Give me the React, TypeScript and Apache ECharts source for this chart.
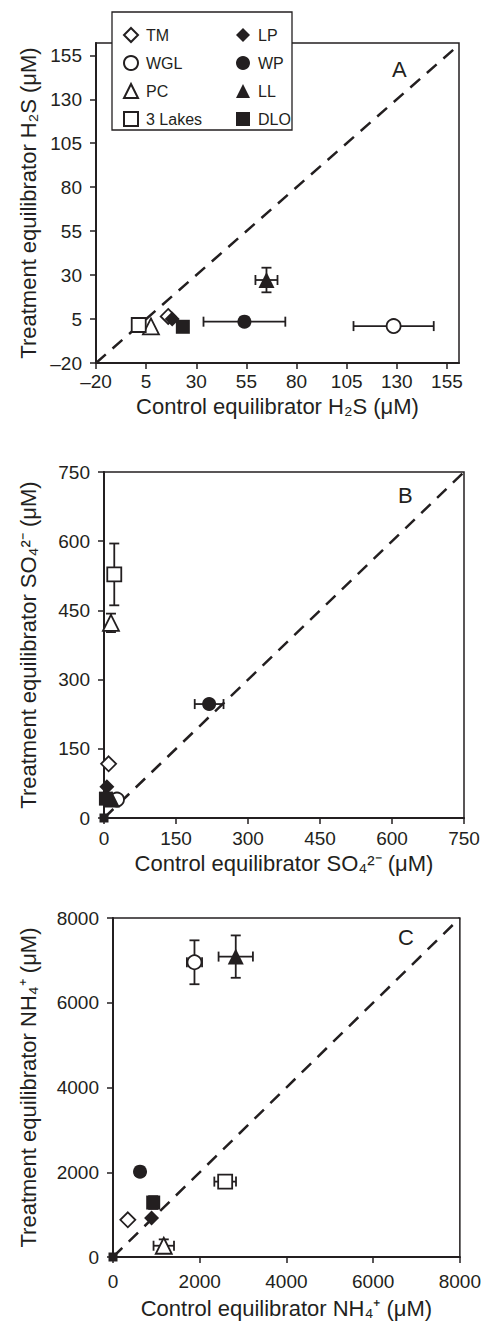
import React, { useEffect, useRef } from 'react';
import * as echarts from 'echarts';

const ink = '#231f20';
const font = '"Liberation Sans", Arial, Helvetica, sans-serif';

const sites = ['TM', 'WGL', 'PC', '3 Lakes', 'LP', 'WP', 'LL', 'DLO'];
const symbols = ['diamond', 'circle', 'triangle', 'rect', 'diamond', 'circle', 'triangle', 'rect'];
const filled = [false, false, false, false, true, true, true, true];
const symbolSizes = [15, 14, 16, 14, 15, 14, 16, 14];

// Panel A: H2S (µM)
const aControl = [16, 128.4, 7.4, 1.3, 18, 54, 65, 23.3];
const aTreatment = [6.5, 1, 0.8, 1.6, 5, 3.5, 27.2, 0.6];
const aControlErr = [0, 20, 0, 0, 0, 20.4, 5.5, 0];
const aTreatmentErr = [0, 0, 0, 0, 0, 0, 7, 0];

// Panel B: SO4 2- (µM)
const bControl = [9.6, 27, 14.5, 21.4, 6, 219, 16.6, 4];
const bTreatment = [117.5, 40, 423, 528, 68, 247, 40, 42];
const bControlErr = [0, 0, 0, 6, 0, 30, 0, 0];
const bTreatmentErr = [0, 0, 20, 67, 0, 0, 0, 0];

// Panel C: NH4+ (µM)
const cControl = [342, 1879, 1171, 2587, 890, 623, 2831, 927];
const cTreatment = [878, 6955, 266, 1779, 918, 2014, 7089, 1285];
const cControlErr = [0, 175, 236, 250, 0, 80, 396, 0];
const cTreatmentErr = [0, 518, 150, 120, 0, 60, 500, 150];

// extra small point at the origin in panels B and C
const originPoint = [0, 0];

// axis ranges
const aMin = -20, aMaxX = 161, aMaxY = 162, aStep = 25;
const bMin = 0, bMax = 750, bStep = 150;
const cMin = 0, cMax = 8000, cStep = 2000;

const panelLabels = ['A', 'B', 'C'];
const xTitles = ['Control equilibrator H₂S (μM)', 'Control equilibrator SO₄²⁻ (μM)', 'Control equilibrator NH₄⁺ (μM)'];
const yTitles = ['Treatment equilibrator H₂S (μM)', 'Treatment equilibrator SO₄²⁻ (μM)', 'Treatment equilibrator NH₄⁺ (μM)'];

const grids = [
  { left: 96, top: 43, width: 363, height: 320 },
  { left: 104, top: 472, width: 360, height: 346 },
  { left: 113, top: 918, width: 350, height: 339 },
];

const errRender = (params: any, api: any) => {
  const x = api.value(0), y = api.value(1), xe = api.value(2), ye = api.value(3);
  const cap = 5;
  const style = { stroke: ink, lineWidth: 1.8, fill: null };
  const children: any[] = [];
  const seg = (x1: number, y1: number, x2: number, y2: number) =>
    children.push({ type: 'line', shape: { x1, y1, x2, y2 }, style });
  if (xe > 0) {
    const p1 = api.coord([x - xe, y]);
    const p2 = api.coord([x + xe, y]);
    seg(p1[0], p1[1], p2[0], p2[1]);
    seg(p1[0], p1[1] - cap, p1[0], p1[1] + cap);
    seg(p2[0], p2[1] - cap, p2[0], p2[1] + cap);
  }
  if (ye > 0) {
    const p1 = api.coord([x, y - ye]);
    const p2 = api.coord([x, y + ye]);
    seg(p1[0], p1[1], p2[0], p2[1]);
    seg(p1[0] - cap, p1[1], p1[0] + cap, p1[1]);
    seg(p2[0] - cap, p2[1], p2[0] + cap, p2[1]);
  }
  return { type: 'group', children };
};

const fmt = (v: number) => String(v).replace('-', '–');

export default function App() {
  const ref = useRef<HTMLDivElement>(null);
  useEffect(() => {
    if (!ref.current) return;
    const chart = echarts.init(ref.current, null, { renderer: 'svg' });

    const panels = [
      { xs: aControl, ys: aTreatment, xe: aControlErr, ye: aTreatmentErr, min: aMin, maxX: aMaxX, maxY: aMaxY, step: aStep, origin: false },
      { xs: bControl, ys: bTreatment, xe: bControlErr, ye: bTreatmentErr, min: bMin, maxX: bMax, maxY: bMax, step: bStep, origin: true },
      { xs: cControl, ys: cTreatment, xe: cControlErr, ye: cTreatmentErr, min: cMin, maxX: cMax, maxY: cMax, step: cStep, origin: true },
    ];
    const xLabelMargin = [9, 11, 15];
    const xNameGap = [32, 34, 40];
    const yNameGap = [57, 65, 74];

    const xAxis: any[] = [];
    const yAxis: any[] = [];
    const series: any[] = [];

    panels.forEach((p, pi) => {
      const common = {
        gridIndex: pi,
        type: 'value',
        min: p.min,
        interval: p.step,
        nameLocation: 'middle',
        splitLine: { show: false },
        axisLine: { show: true, onZero: false, lineStyle: { color: ink, width: 2 } },
        axisTick: { show: true, inside: false, length: 6, lineStyle: { color: ink, width: 1.5 } },
        nameTextStyle: { fontSize: 22, color: ink, fontFamily: font },
      };
      xAxis.push({
        ...common,
        max: p.maxX,
        name: xTitles[pi],
        nameGap: xNameGap[pi],
        axisLabel: { fontSize: 19, color: ink, fontFamily: font, margin: xLabelMargin[pi], formatter: fmt, showMaxLabel: p.maxX % p.step === (p.min % p.step) },
      });
      yAxis.push({
        ...common,
        max: p.maxY,
        name: yTitles[pi],
        nameGap: yNameGap[pi],
        axisLabel: { fontSize: 19, color: ink, fontFamily: font, margin: 14, formatter: fmt },
      });

      // 1:1 dashed line
      series.push({
        type: 'line',
        xAxisIndex: pi,
        yAxisIndex: pi,
        data: [[p.min, p.min], [Math.min(p.maxX, p.maxY), Math.min(p.maxX, p.maxY)]],
        showSymbol: false,
        symbol: 'none',
        silent: true,
        lineStyle: { color: ink, width: 2.5, type: [13, 9] },
        z: 1,
      });

      // error bars
      series.push({
        type: 'custom',
        xAxisIndex: pi,
        yAxisIndex: pi,
        renderItem: errRender,
        encode: { x: 0, y: 1 },
        data: sites.map((_, i) => [p.xs[i], p.ys[i], p.xe[i], p.ye[i]]),
        silent: true,
        z: 2,
      });

      sites.forEach((s, i) => {
        const data: any[] = [[p.xs[i], p.ys[i]]];
        if (p.origin && s === 'DLO') data.push({ value: originPoint, symbolSize: 9 });
        series.push({
          type: 'scatter',
          name: s,
          xAxisIndex: pi,
          yAxisIndex: pi,
          symbol: symbols[i],
          symbolSize: symbolSizes[i],
          data,
          itemStyle: filled[i]
            ? { color: ink, borderColor: ink, borderWidth: 0, opacity: 1 }
            : { color: '#ffffff', borderColor: ink, borderWidth: 1.8, opacity: 1 },
          z: 3,
        });
      });
    });

    const legendCommon = {
      orient: 'vertical',
      top: 22,
      itemWidth: 14,
      itemHeight: 14,
      itemGap: 12,
      selectedMode: false,
      z: 20,
      textStyle: { fontSize: 16, lineHeight: 16, color: ink, fontFamily: font, padding: [0, 0, 0, 3] },
    };

    chart.setOption({
      animation: false,
      backgroundColor: '#ffffff',
      textStyle: { fontFamily: font },
      grid: grids.map((g) => ({ ...g, show: true, borderColor: ink, borderWidth: 1.5, backgroundColor: 'transparent' })),
      xAxis,
      yAxis,
      legend: [
        { ...legendCommon, left: 118, data: sites.slice(0, 4) },
        { ...legendCommon, left: 231, data: sites.slice(4) },
      ],
      graphic: [
        { type: 'rect', z: 10, shape: { x: 112, y: 12, width: 180, height: 118 }, style: { fill: '#ffffff', stroke: ink, lineWidth: 1.3 } },
        { type: 'text', z: 10, x: 392, y: 58, style: { text: panelLabels[0], fontSize: 22, fill: ink, fontFamily: font } },
        { type: 'text', z: 10, x: 398, y: 484, style: { text: panelLabels[1], fontSize: 22, fill: ink, fontFamily: font } },
        { type: 'text', z: 10, x: 398, y: 926, style: { text: panelLabels[2], fontSize: 22, fill: ink, fontFamily: font } },
      ],
      series,
    });
    return () => chart.dispose();
  }, []);

  return <div ref={ref} style={{ position: 'absolute', left: 0, top: 0, width: 484, height: 1324 }} />;
}
